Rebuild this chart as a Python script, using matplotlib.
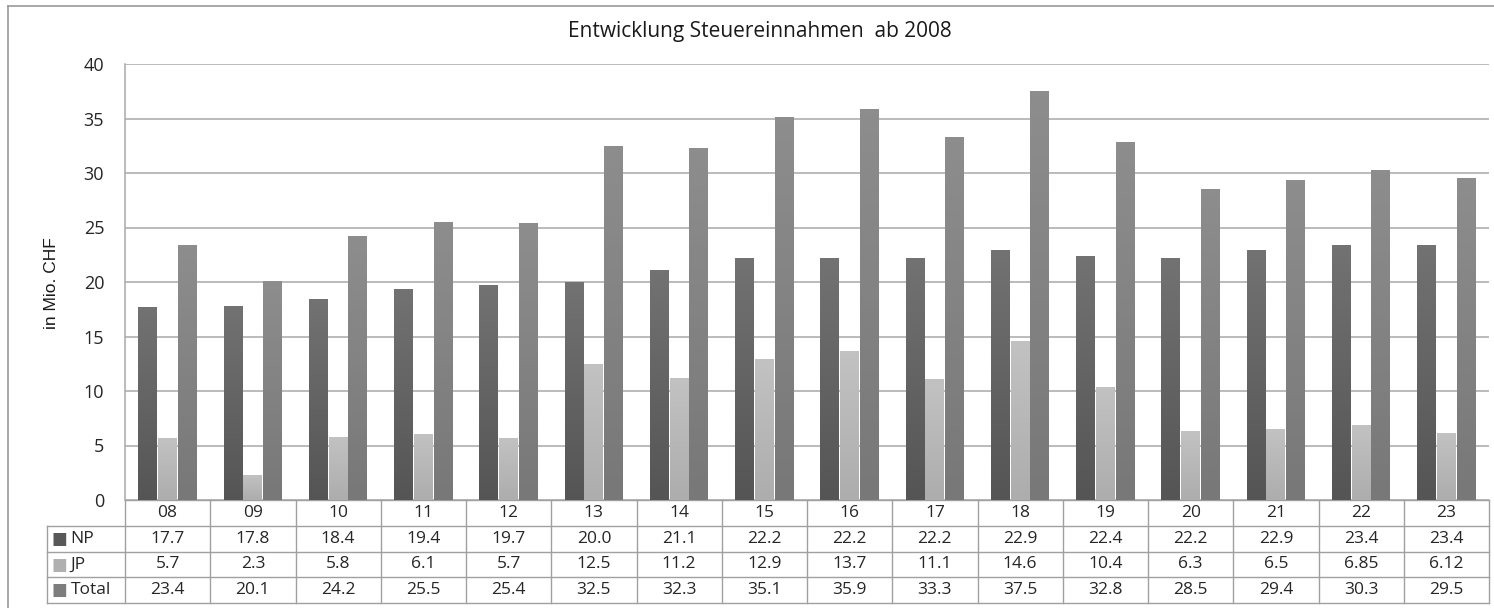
import numpy as np
import matplotlib.pyplot as plt
from matplotlib.colors import LinearSegmentedColormap
from matplotlib.transforms import blended_transform_factory
from matplotlib.lines import Line2D

plt.rcParams['font.family'] = ['Open Sans', 'DejaVu Sans']

years = ['08', '09', '10', '11', '12', '13', '14', '15', '16', '17', '18', '19', '20', '21', '22', '23']
np_vals = [17.7, 17.8, 18.4, 19.4, 19.7, 20.0, 21.1, 22.2, 22.2, 22.2, 22.9, 22.4, 22.2, 22.9, 23.4, 23.4]
jp_vals = [5.7, 2.3, 5.8, 6.1, 5.7, 12.5, 11.2, 12.9, 13.7, 11.1, 14.6, 10.4, 6.3, 6.5, 6.85, 6.12]
total_vals = [23.4, 20.1, 24.2, 25.5, 25.4, 32.5, 32.3, 35.1, 35.9, 33.3, 37.5, 32.8, 28.5, 29.4, 30.3, 29.5]
np_txt = ['17.7', '17.8', '18.4', '19.4', '19.7', '20.0', '21.1', '22.2', '22.2', '22.2', '22.9', '22.4', '22.2', '22.9', '23.4', '23.4']
jp_txt = ['5.7', '2.3', '5.8', '6.1', '5.7', '12.5', '11.2', '12.9', '13.7', '11.1', '14.6', '10.4', '6.3', '6.5', '6.85', '6.12']
total_txt = ['23.4', '20.1', '24.2', '25.5', '25.4', '32.5', '32.3', '35.1', '35.9', '33.3', '37.5', '32.8', '28.5', '29.4', '30.3', '29.5']

series = [
    ('NP', np_vals, np_txt, ('#555555', '#727272'), '#585858'),
    ('JP', jp_vals, jp_txt, ('#adadad', '#c2c2c2'), '#b0b0b0'),
    ('Total', total_vals, total_txt, ('#787878', '#8d8d8d'), '#7d7d7d'),
]

W, H = 1494, 608
fig = plt.figure(figsize=(W / 100, H / 100), dpi=100)
ax = fig.add_axes([125 / W, 1 - 500 / H, (1489 - 125) / W, (500 - 64) / H])

x = np.arange(len(years))
bw = 0.222
grad = np.linspace(0, 1, 64).reshape(-1, 1)
for k, (name, vals, txt, cols, legc) in enumerate(series):
    cmap = LinearSegmentedColormap.from_list(name, list(cols))
    offs = (k - 1) * (bw + 0.01)
    bars = ax.bar(x + offs, vals, bw, color=cols[0], edgecolor='none', zorder=2)
    for b in bars:
        x0, w, h = b.get_x(), b.get_width(), b.get_height()
        im = ax.imshow(grad, cmap=cmap, origin='lower', aspect='auto',
                       extent=(x0, x0 + w, 0, h), zorder=3)
        im.set_clip_path(b)

ax.set_xlim(-0.5, len(years) - 0.5)
ax.set_ylim(0, 40)
ax.set_yticks(range(0, 41, 5))
ax.set_xticks([])
ax.yaxis.grid(True, color='#a8a8a8', linewidth=1.1, zorder=0)
ax.set_axisbelow(True)
for s in ['top', 'right', 'bottom']:
    ax.spines[s].set_visible(False)
ax.spines['left'].set_color('#a8a8a8')
ax.spines['left'].set_linewidth(1.1)
ax.tick_params(axis='y', length=0, pad=15, labelsize=13, labelcolor='#262626')

# data table below the axis
tr = blended_transform_factory(ax.transData, ax.transAxes)
rh = 25.8 / 436
lc = '#a0a0a0'
lw = 1.0
colw = (1489 - 125) / len(years)
left = -0.5 - (125 - 46.7) / colw
right = len(years) - 0.5
ax.add_line(Line2D([-0.5, right], [0, 0], transform=tr, color=lc, lw=lw, clip_on=False))
for r in range(1, 5):
    ax.add_line(Line2D([left, right], [-r * rh, -r * rh], transform=tr, color=lc, lw=lw, clip_on=False))
ax.add_line(Line2D([left, left], [-rh, -4 * rh], transform=tr, color=lc, lw=lw, clip_on=False))
for i in range(len(years) + 1):
    ax.add_line(Line2D([i - 0.5, i - 0.5], [0, -4 * rh], transform=tr, color=lc, lw=lw, clip_on=False))

fs = 12.5
for i, yr in enumerate(years):
    ax.text(i, -0.5 * rh, yr, transform=tr, ha='center', va='center', fontsize=fs, color='#262626')
for k, (name, vals, txt, cols, legc) in enumerate(series):
    yc = -(k + 1.5) * rh
    for i, t in enumerate(txt):
        ax.text(i, yc, t, transform=tr, ha='center', va='center', fontsize=fs, color='#262626')
    ax.text(left + 5 / colw, yc, '\u25a0', transform=tr, ha='left', va='center', fontsize=12,
            color=legc, family='DejaVu Sans')
    ax.text(left + 24 / colw, yc, name, transform=tr, ha='left', va='center', fontsize=fs, color='#262626')

# title, axis label and outer frame
fig.text(760 / W, 1 - 32 / H, 'Entwicklung Steuereinnahmen  ab 2008', ha='center', va='center',
         fontsize=15, color='#1a1a1a')
fig.text(51 / W, 1 - 283 / H, 'in Mio. CHF', rotation=90, ha='center', va='center',
         fontsize=12.5, color='#1a1a1a', family=['Liberation Sans Narrow', 'Liberation Sans', 'DejaVu Sans'])
fig.add_artist(Line2D([8 / W, 1], [1 - 6 / H, 1 - 6 / H], transform=fig.transFigure, color='#999999', lw=1.2))
fig.add_artist(Line2D([8 / W, 8 / W], [0, 1 - 6 / H], transform=fig.transFigure, color='#999999', lw=1.2))

fig.savefig('out.png', dpi=100)
